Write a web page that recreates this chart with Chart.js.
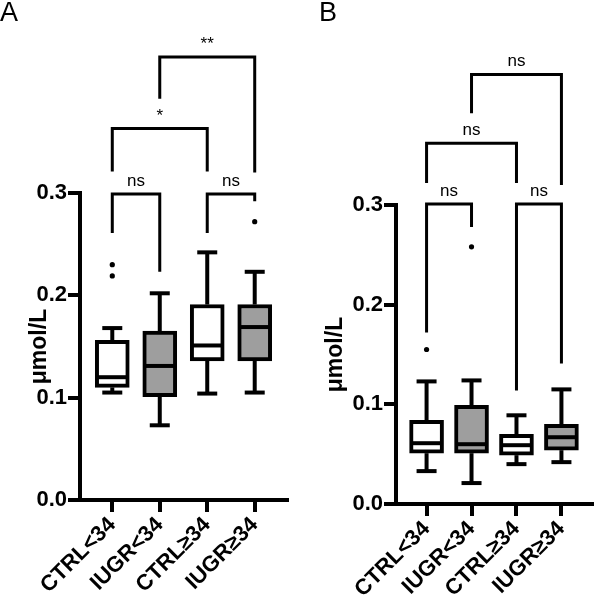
<!DOCTYPE html>
<html><head><meta charset="utf-8">
<script src="https://cdn.jsdelivr.net/npm/chart.js@4/dist/chart.umd.min.js"></script>
<style>
html,body{margin:0;padding:0;background:#fff;width:596px;height:598px;overflow:hidden;}
.p{position:absolute;top:0;width:298px;height:598px;}
.lbl{position:absolute;font-family:"Liberation Sans",Arial,sans-serif;font-size:27px;top:-3px;color:#000;}
</style></head><body>
<div class="p" style="left:0"><canvas id="cA" width="298" height="598"></canvas></div>
<div class="p" style="left:298px"><canvas id="cB" width="298" height="598"></canvas></div>
<div class="lbl" style="left:0">A</div><div class="lbl" style="left:319px">B</div>
<script>
const categories = ['CTRL<34', 'IUGR<34', 'CTRL≥34', 'IUGR≥34'];
const fills = ['#ffffff', '#9e9e9e', '#ffffff', '#9e9e9e'];
const yTicks = [0.0, 0.1, 0.2, 0.3];
const yTitle = 'μmol/L';

// Panel A
const aMin = [0.105, 0.073, 0.104, 0.105];
const aQ1  = [0.110, 0.101, 0.136, 0.136];
const aMed = [0.120, 0.131, 0.151, 0.169];
const aQ3  = [0.156, 0.165, 0.191, 0.191];
const aMax = [0.168, 0.202, 0.242, 0.223];
const aOutliers = [[0.219, 0.230], [], [], [0.272]];
// comparison brackets: [from, to, barHeight, leftLegEnd, rightLegEnd, label]
const aBrackets = [
  [0, 1, 0.299, 0.261, 0.223, 'ns'],
  [2, 3, 0.299, 0.261, 0.292, 'ns'],
  [0, 2, 0.363, 0.321, 0.321, '*'],
  [1, 3, 0.433, 0.392, 0.320, '**']
];

// Panel B
const bMin = [0.033, 0.021, 0.040, 0.042];
const bQ1  = [0.051, 0.051, 0.049, 0.054];
const bMed = [0.061, 0.060, 0.059, 0.067];
const bQ3  = [0.084, 0.099, 0.070, 0.080];
const bMax = [0.123, 0.124, 0.089, 0.115];
const bOutliers = [[0.155], [0.258], [], []];
const bBrackets = [
  [0, 1, 0.301, 0.172, 0.278, 'ns'],
  [2, 3, 0.301, 0.114, 0.141, 'ns'],
  [0, 2, 0.362, 0.322, 0.322, 'ns'],
  [1, 3, 0.431, 0.392, 0.320, 'ns']
];

Chart.defaults.font.family = '"Liberation Sans", Arial, sans-serif';
Chart.defaults.color = '#000';

const boxPlugin = {
  id: 'boxes',
  afterDatasetsDraw(chart) {
    const s = chart.options.plugins.boxes;
    const xs = chart.scales.x, ys = chart.scales.y, ctx = chart.ctx;
    ctx.save();
    ctx.strokeStyle = '#000';
    ctx.lineWidth = 4;
    ctx.lineCap = 'butt';
    const seg = (x1, y1, x2, y2) => { ctx.beginPath(); ctx.moveTo(x1, y1); ctx.lineTo(x2, y2); ctx.stroke(); };
    s.min.forEach((_, i) => {
      const cx = xs.getPixelForValue(i);
      const yMin = ys.getPixelForValue(s.min[i]);
      const yMax = ys.getPixelForValue(s.max[i]);
      const yQ1 = ys.getPixelForValue(s.q1[i]);
      const yQ3 = ys.getPixelForValue(s.q3[i]);
      const yMed = ys.getPixelForValue(s.med[i]);
      seg(cx, yQ3, cx, yMax);
      seg(cx - 10, yMax, cx + 10, yMax);
      seg(cx, yQ1, cx, yMin);
      seg(cx - 10, yMin, cx + 10, yMin);
      seg(cx - 15, yMed, cx + 15, yMed);
    });
    ctx.restore();
  }
};

const bracketPlugin = {
  id: 'brackets',
  afterDraw(chart) {
    const list = chart.options.plugins.brackets.list;
    const xs = chart.scales.x, ys = chart.scales.y, ctx = chart.ctx;
    ctx.save();
    ctx.strokeStyle = '#000';
    ctx.lineWidth = 3;
    ctx.lineJoin = 'miter';
    ctx.fillStyle = '#000';
    ctx.font = '17px "Liberation Sans", Arial, sans-serif';
    ctx.textAlign = 'center';
    ctx.textBaseline = 'alphabetic';
    list.forEach(b => {
      const x1 = xs.getPixelForValue(b[0]);
      const x2 = xs.getPixelForValue(b[1]);
      const yt = ys.getPixelForValue(b[2]);
      ctx.beginPath();
      ctx.moveTo(x1, ys.getPixelForValue(b[3]));
      ctx.lineTo(x1, yt);
      ctx.lineTo(x2, yt);
      ctx.lineTo(x2, ys.getPixelForValue(b[4]));
      ctx.stroke();
      ctx.fillText(b[5], (x1 + x2) / 2, yt - 8);
    });
    ctx.restore();
  }
};

function makePanel(id, d) {
  const boxData = categories.map((c, i) => ({ x: i, y: [d.q1[i], d.q3[i]] }));
  const outData = [];
  d.out.forEach((arr, i) => arr.forEach(v => outData.push({ x: i, y: v })));
  return new Chart(document.getElementById(id), {
    type: 'bar',
    data: {
      datasets: [
        {
          type: 'bar', data: boxData, backgroundColor: fills, borderColor: '#000',
          borderWidth: 4, borderSkipped: false, barThickness: 34
        },
        {
          type: 'scatter', data: outData, backgroundColor: '#000', borderWidth: 0,
          pointRadius: 2.6
        }
      ]
    },
    options: {
      responsive: false, animation: false,
      layout: { padding: d.pad },
      plugins: {
        legend: { display: false }, tooltip: { enabled: false },
        boxes: { min: d.min, q1: d.q1, med: d.med, q3: d.q3, max: d.max },
        brackets: { list: d.brackets }
      },
      scales: {
        x: {
          type: 'linear', min: -0.68, max: 3.68, offset: false,
          afterBuildTicks: s => { s.ticks = categories.map((c, i) => ({ value: i })); },
          afterFit: s => { s.height = d.xh; },
          ticks: {
            callback: v => categories[v], autoSkip: false, maxRotation: 45, minRotation: 45,
            padding: 0, font: { size: 22, weight: 'bold' }, color: '#000'
          },
          grid: { display: true, offset: false, drawOnChartArea: false, drawTicks: true, tickLength: 12, lineWidth: 4, color: '#000' },
          border: { display: true, width: 4, color: '#000' }
        },
        y: {
          type: 'linear', min: 0, max: 0.3,
          afterBuildTicks: s => { s.ticks = yTicks.map(v => ({ value: v })); },
          afterFit: s => { s.width = d.yw; },
          ticks: { callback: v => v.toFixed(1), padding: 1, font: { size: 22, weight: 'bold' }, color: '#000' },
          grid: { display: true, drawOnChartArea: false, drawTicks: true, tickLength: 12, lineWidth: 4, color: '#000' },
          border: { display: true, width: 4, color: '#000' },
          title: { display: true, text: yTitle, font: { size: 23, weight: 'bold' }, color: '#000', padding: { top: d.tp, bottom: 0 } }
        }
      }
    },
    plugins: [boxPlugin, bracketPlugin]
  });
}

makePanel('cA', { min: aMin, q1: aQ1, med: aMed, q3: aQ3, max: aMax, out: aOutliers, brackets: aBrackets,
  pad: { top: 193, right: 11, left: 0, bottom: 0 }, xh: 98, yw: 80, tp: 26 });
makePanel('cB', { min: bMin, q1: bQ1, med: bMed, q3: bQ3, max: bMax, out: bOutliers, brackets: bBrackets,
  pad: { top: 205, right: 1, left: 0, bottom: 0 }, xh: 94, yw: 98, tp: 24 });
</script>
</body></html>
